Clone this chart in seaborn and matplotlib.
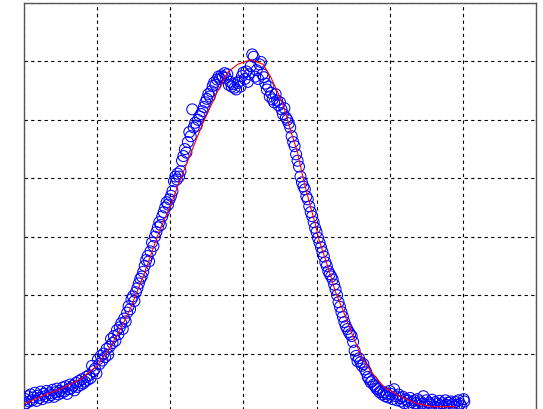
import matplotlib
matplotlib.use("Agg")
import matplotlib.pyplot as plt
import seaborn as sns
import pandas as pd

tail_left = [(0.00,0.12),(0.02,0.22),(0.03,0.15),(0.05,0.27),(0.07,0.18),(0.09,0.30),(0.11,0.20),(0.13,0.25),
             (0.15,0.33),(0.17,0.19),(0.19,0.28),(0.21,0.24),(0.23,0.35),(0.25,0.22),(0.27,0.31),(0.29,0.27),
             (0.31,0.36),(0.33,0.25),(0.35,0.32),(0.37,0.29),(0.39,0.38),(0.41,0.26),(0.43,0.34),(0.45,0.40),
             (0.47,0.30),(0.49,0.36),(0.51,0.33),(0.53,0.42),(0.55,0.35),(0.57,0.44),(0.59,0.31),(0.61,0.39),
             (0.63,0.47),(0.65,0.41),(0.67,0.45),(0.69,0.37),(0.71,0.50),(0.73,0.43),(0.75,0.53),(0.77,0.46),
             (0.79,0.56),(0.81,0.49),(0.83,0.52),(0.85,0.60),(0.87,0.55),(0.89,0.63),(0.91,0.58),(0.93,0.79),
             (0.95,0.70),(0.97,0.74),(0.99,0.66)]
rise = [(1.01,0.90),(1.03,0.82),(1.05,0.96),(1.07,0.88),(1.09,1.00),(1.11,0.94),(1.13,1.08),(1.15,0.98),
        (1.17,1.12),(1.19,1.25),(1.21,1.18),(1.23,1.30),(1.25,1.22),(1.27,1.40),(1.29,1.33),(1.31,1.45),
        (1.33,1.52),(1.35,1.42),(1.37,1.60),(1.39,1.55),(1.41,1.70),(1.43,1.81),(1.45,1.76),(1.47,1.93),
        (1.49,1.98),(1.51,1.90),(1.53,2.05),(1.55,2.12),(1.57,2.20),(1.59,2.28),(1.61,2.32),(1.63,2.40),
        (1.65,2.50),(1.67,2.60),(1.69,2.67),(1.71,2.58),(1.73,2.75),(1.75,2.90),(1.77,2.84),(1.79,3.00),
        (1.81,3.08),(1.83,3.16),(1.85,3.25),(1.87,3.20),(1.89,3.35),(1.91,3.42),(1.93,3.50),(1.95,3.59),
        (1.97,3.55),(1.99,3.64)]
upper_rise = [(2.01,3.70),(2.03,3.78),(2.05,3.95),(2.07,4.03),(2.09,3.98),(2.10,4.08),(2.12,4.03),(2.14,4.12),
              (2.16,4.30),(2.18,4.38),(2.20,4.50),(2.22,4.44),(2.24,4.62),(2.26,4.79),(2.28,4.72),(2.30,5.18),
              (2.32,4.87),(2.34,4.95),(2.36,4.90),(2.38,5.00),(2.40,5.06),(2.42,5.10),(2.44,5.15),(2.46,5.22),
              (2.48,5.30),(2.50,5.36),(2.52,5.44),(2.54,5.40),(2.56,5.49),(2.58,5.58),(2.60,5.64),(2.62,5.60),
              (2.64,5.69),(2.66,5.74),(2.68,5.70),(2.70,5.76),(2.72,5.73),(2.74,5.80),(2.76,5.72),(2.78,5.78),
              (2.80,5.60),(2.82,5.65),(2.84,5.57),(2.86,5.61),(2.88,5.55),(2.90,5.52),(2.92,5.63),(2.94,5.66),
              (2.96,5.57),(2.98,5.75),(3.00,5.81)]
peak_fall = [(3.02,5.70),(3.04,5.83),(3.06,5.65),(3.08,5.78),(3.10,5.92),(3.12,6.12),(3.14,6.08),(3.16,5.74),
             (3.18,5.85),(3.20,5.70),(3.22,5.95),(3.24,5.99),(3.26,5.78),(3.28,5.73),(3.30,5.62),(3.32,5.52),
             (3.34,5.57),(3.36,5.40),(3.38,5.46),(3.40,5.35),(3.42,5.30),(3.44,5.44),(3.46,5.33),(3.48,5.25),
             (3.50,5.30),(3.52,5.18),(3.54,5.10),(3.56,5.20),(3.58,5.04),(3.60,5.00),(3.62,4.94),(3.64,4.87),
             (3.66,4.72),(3.68,4.62),(3.70,4.55),(3.72,4.41),(3.74,4.30),(3.76,4.20),(3.78,4.03),(3.80,3.93),
             (3.82,3.86),(3.84,3.81),(3.86,3.69),(3.88,3.64),(3.90,3.52),(3.92,3.42),(3.94,3.35),(3.96,3.25),
             (3.98,3.15),(4.00,3.08)]
lower_fall = [(4.02,2.98),(4.04,2.90),(4.06,2.82),(4.08,2.74),(4.10,2.66),(4.12,2.56),(4.14,2.50),(4.16,2.41),
              (4.18,2.36),(4.20,2.32),(4.22,2.27),(4.24,2.18),(4.26,2.10),(4.28,2.00),(4.30,1.88),(4.32,1.80),
              (4.34,1.71),(4.36,1.63),(4.38,1.54),(4.40,1.47),(4.42,1.42),(4.44,1.37),(4.46,1.33),(4.48,1.30),
              (4.50,1.20),(4.52,1.05),(4.54,0.96),(4.56,0.87),(4.58,0.92),(4.60,0.85),(4.62,0.79),(4.64,0.82),
              (4.66,0.73),(4.68,0.68),(4.70,0.60),(4.72,0.56),(4.74,0.51),(4.76,0.53),(4.78,0.47),(4.80,0.44),
              (4.82,0.40),(4.84,0.39),(4.86,0.34),(4.88,0.36),(4.90,0.30),(4.92,0.34),(4.94,0.27),(4.96,0.31),
              (4.98,0.25),(5.00,0.36)]
tail_right = [(5.02,0.31),(5.04,0.22),(5.06,0.39),(5.08,0.27),(5.10,0.20),(5.12,0.30),(5.14,0.24),(5.16,0.18),
              (5.18,0.26),(5.20,0.15),(5.22,0.22),(5.24,0.19),(5.26,0.13),(5.28,0.24),(5.30,0.17),(5.32,0.11),
              (5.34,0.20),(5.36,0.15),(5.38,0.22),(5.40,0.10),(5.42,0.18),(5.44,0.14),(5.46,0.27),(5.48,0.12),
              (5.50,0.20),(5.52,0.09),(5.54,0.16),(5.56,0.13),(5.58,0.21),(5.60,0.10),(5.62,0.17),(5.64,0.08),
              (5.66,0.14),(5.68,0.19),(5.70,0.11),(5.72,0.15),(5.74,0.09),(5.76,0.20),(5.78,0.12),(5.80,0.16),
              (5.82,0.10),(5.84,0.18),(5.86,0.13),(5.88,0.09),(5.90,0.17),(5.92,0.12),(5.94,0.20),(5.96,0.14),
              (5.98,0.10),(6.01,0.22),(6.02,0.18)]

# fitted curve
fit_x = [0.0,0.22,0.49,0.77,1.0,1.14,1.32,1.45,1.63,1.86,2.0,2.1,2.23,2.45,2.64,2.78,2.92,3.1,3.27,3.37,
         3.47,3.55,3.64,3.74,3.82,3.89,3.99,4.03,4.15,4.26,4.37,4.51,4.63,4.74,4.92,5.15,5.38,5.6,5.84,5.9]
fit_y = [0.14,0.26,0.39,0.56,0.79,1.03,1.42,1.76,2.32,3.13,3.52,3.86,4.27,4.96,5.47,5.81,5.95,6.03,5.95,5.74,
         5.47,5.23,4.84,4.44,3.98,3.64,3.18,2.96,2.5,2.05,1.71,1.25,0.91,0.70,0.43,0.26,0.14,0.09,0.09,0.09]

samples = tail_left + rise + upper_rise + peak_fall + lower_fall + tail_right
df = pd.DataFrame(samples, columns=["x", "y"])
fit = pd.DataFrame({"x": fit_x, "y": fit_y})

sns.set_theme(style="white")
fig = plt.figure(figsize=(5.43, 4.10), dpi=100)
fig.patch.set_facecolor("white")
ax = fig.add_axes([24/543, -3/410, 512/543, 409/410])

sns.scatterplot(data=df, x="x", y="y", ax=ax, marker="o", s=62,
                facecolor="none", edgecolor="#0000ff", linewidth=0.75, zorder=3)
sns.lineplot(data=fit, x="x", y="y", ax=ax, color="#ff0000", linewidth=0.8,
             sort=False, estimator=None, zorder=4)

ax.set_xlim(0, 7)
ax.set_ylim(0, 7)
ax.set_xticks(range(0, 8))
ax.set_yticks(range(0, 8))
ax.set_xticklabels([])
ax.set_yticklabels([])
ax.set_xlabel("")
ax.set_ylabel("")
ax.tick_params(length=0)
ax.grid(True, color="black", linestyle=(0, (3, 3)), linewidth=0.8)
ax.set_axisbelow(True)
for s in ax.spines.values():
    s.set_color("#555555")
    s.set_linewidth(1.0)

fig.savefig("out.png", dpi=100, facecolor="white")
